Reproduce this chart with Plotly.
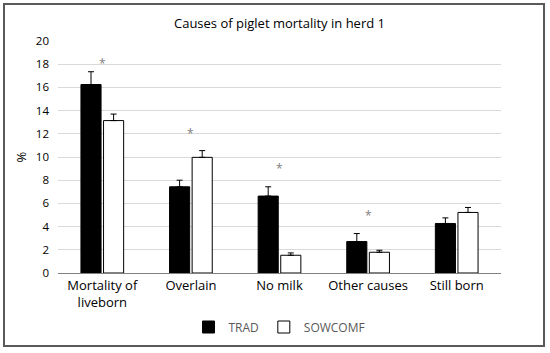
import plotly.graph_objects as go

categories = ["Mortality of<br>liveborn", "Overlain", "No milk", "Other causes", "Still born"]
trad = [16.25, 7.43, 6.63, 2.71, 4.27]
trad_err = [1.1, 0.57, 0.8, 0.69, 0.48]
sowcomf = [13.14, 9.97, 1.53, 1.79, 5.22]
sowcomf_err = [0.56, 0.58, 0.2, 0.17, 0.43]
star_cats = ["Mortality of<br>liveborn", "Overlain", "No milk", "Other causes"]
star_y = [18.1, 12.05, 9.0, 5.0]
yticks = [0, 2, 4, 6, 8, 10, 12, 14, 16, 18, 20]

FONT = "Open Sans"

fig = go.Figure()
fig.add_trace(go.Bar(
    name="TRAD", x=categories, y=trad,
    marker=dict(color="black", line=dict(color="black", width=1)),
    error_y=dict(type="data", array=trad_err, arrayminus=[0]*5, symmetric=False,
                 color="black", thickness=1, width=3),
))
fig.add_trace(go.Bar(
    name="SOWCOMF", x=categories, y=sowcomf,
    marker=dict(color="white", line=dict(color="black", width=1)),
    error_y=dict(type="data", array=sowcomf_err, arrayminus=[0]*5, symmetric=False,
                 color="black", thickness=1, width=3),
))

for c, yv in zip(star_cats, star_y):
    fig.add_annotation(x=c, y=yv, text="*", showarrow=False,
                       font=dict(family=FONT, size=12, color="#808080"))

l, r, t, b = 58, 49, 41, 80
W, H = 550, 353
pw, ph = W - l - r, H - t - b
x0 = (4 - l) / pw
x1 = (544 - l) / pw
y1 = (H - b - 4) / ph
y0 = (H - b - 346) / ph
fig.add_shape(type="rect", xref="paper", yref="paper", x0=x0, x1=x1, y0=y0, y1=y1,
              line=dict(color="#595959", width=2), fillcolor="rgba(0,0,0,0)", layer="below")

fig.update_layout(
    width=W, height=H,
    margin=dict(l=l, r=r, t=t, b=b),
    paper_bgcolor="white", plot_bgcolor="white",
    title=dict(text="Causes of piglet mortality in herd 1", x=0.5, xref="paper",
               y=1 - 23 / H, yanchor="middle",
               font=dict(family=FONT, size=13, color="black")),
    barmode="group", bargap=0.49, bargroupgap=0.11,
    showlegend=True,
    legend=dict(orientation="h", x=0.5, xanchor="center", y=(H - b - 327) / ph, yanchor="middle",
                font=dict(family=FONT, size=12, color="#595959"), itemwidth=30),
    xaxis=dict(showline=True, linecolor="#808080", linewidth=1, ticks="",
               tickfont=dict(family=FONT, size=13, color="black")),
    yaxis=dict(range=[0, 20], tickvals=yticks, showgrid=True, gridcolor="#d9d9d9", gridwidth=1,
               zeroline=False, showline=False, ticks="", ticklabelstandoff=8,
               tickfont=dict(family=FONT, size=11.5, color="black"),
               title=dict(text="%", font=dict(family=FONT, size=13, color="black"), standoff=6)),
)

fig.write_html("out.html", config={"displayModeBar": False},
               post_script="document.body.style.margin='0';")
